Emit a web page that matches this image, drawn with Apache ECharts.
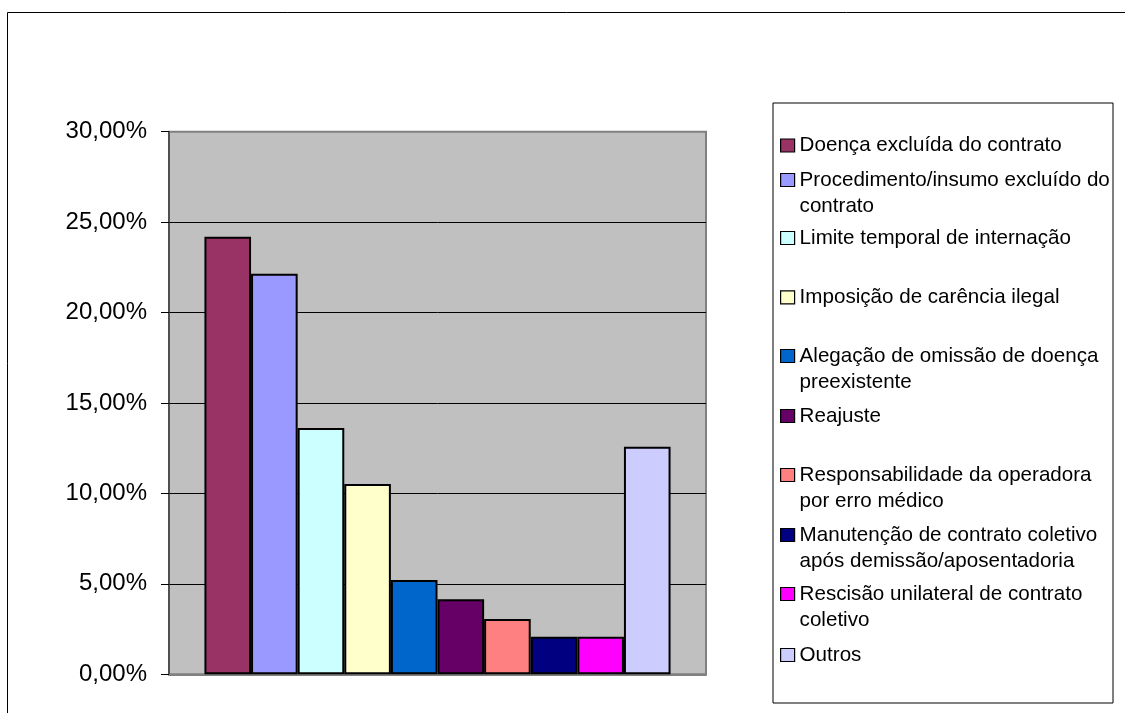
<!DOCTYPE html>
<html>
<head>
<meta charset="utf-8">
<script src="https://cdn.jsdelivr.net/npm/echarts@6/dist/echarts.min.js"></script>
<style>
  html, body { margin: 0; padding: 0; background: #fff; }
  #chart { width: 1125px; height: 713px; }
</style>
</head>
<body>
<div id="chart"></div>
<script>
// Motivos das ações (percentual de casos)
const categories = [
  'Doença excluída do contrato',
  'Procedimento/insumo excluído do contrato',
  'Limite temporal de internação',
  'Imposição de carência ilegal',
  'Alegação de omissão de doença preexistente',
  'Reajuste',
  'Responsabilidade da operadora por erro médico',
  'Manutenção de contrato coletivo após demissão/aposentadoria',
  'Rescisão unilateral de contrato coletivo',
  'Outros'
];

// Legend text, broken into lines
const legendLines = [
  ['Doença excluída do contrato'],
  ['Procedimento/insumo excluído do', 'contrato'],
  ['Limite temporal de internação'],
  ['Imposição de carência ilegal'],
  ['Alegação de omissão de doença', 'preexistente'],
  ['Reajuste'],
  ['Responsabilidade da operadora', 'por erro médico'],
  ['Manutenção de contrato coletivo', 'após demissão/aposentadoria'],
  ['Rescisão unilateral de contrato', 'coletivo'],
  ['Outros']
];

// Percent values
const values = [24.19, 22.15, 13.62, 10.52, 5.21, 4.15, 3.06, 2.08, 2.08, 12.58];

const colors = ['#993366', '#9999FF', '#CCFFFF', '#FFFFCC', '#0066CC',
                '#660066', '#FF8080', '#000080', '#FF00FF', '#CCCCFF'];

// Y axis: 0% .. 30% every 5%
const yMin = 0;
const yMax = 30;
const yStep = 5;

// Vertical centre of each legend swatch
const legendCenters = [145.5, 180, 238, 297.3, 356, 416, 475, 535, 594, 655];

const FONT = '"Liberation Sans", Arial, sans-serif';
const LH = 26.5;

const chart = echarts.init(document.getElementById('chart'), null, { renderer: 'canvas' });

const legends = categories.map((name, i) => {
  const lines = legendLines[i];
  const multi = lines.length > 1;
  return {
    data: [name],
    orient: 'vertical',
    left: 780,
    top: legendCenters[i] - (multi ? 1.5 : 0.5) * LH,
    padding: 0,
    itemWidth: 14,
    itemHeight: 13,
    icon: 'rect',
    selectedMode: false,
    itemStyle: { borderColor: '#000', borderWidth: 1.2 },
    textStyle: { fontFamily: FONT, fontSize: 20.6, color: '#000', lineHeight: LH },
    // a blank first line keeps the swatch level with the first text line
    formatter: () => (multi ? ' \n' + lines.join('\n') : lines[0])
  };
});

const option = {
  animation: false,
  backgroundColor: '#fff',
  grid: {
    left: 169, right: 419, top: 131.7, bottom: 38.7,
    containLabel: false,
    show: true,
    backgroundColor: '#C0C0C0',
    borderColor: '#808080',
    borderWidth: 2
  },
  legend: legends,
  xAxis: {
    type: 'category',
    data: [''],
    axisLine: { show: true, lineStyle: { color: '#808080', width: 2 } },
    axisTick: { show: false },
    axisLabel: { show: false },
    splitLine: { show: false }
  },
  yAxis: {
    type: 'value',
    min: yMin, max: yMax, interval: yStep,
    axisLine: { show: true, lineStyle: { color: '#404040', width: 1.5 } },
    axisTick: { show: true, length: 8, lineStyle: { color: '#000', width: 1 } },
    axisLabel: {
      margin: 22,
      fontFamily: FONT,
      fontSize: 24,
      color: '#000',
      formatter: v => v.toFixed(2).replace('.', ',') + '%'
    },
    splitLine: {
      show: true,
      showMinLine: false,
      showMaxLine: false,
      lineStyle: { color: '#000', width: 1 }
    }
  },
  series: categories.map((name, i) => ({
    type: 'bar',
    name: name,
    data: [values[i]],
    barGap: '0%',
    barCategoryGap: '13.2%',
    itemStyle: { color: colors[i], borderColor: '#000', borderWidth: 2 }
  })),
  graphic: [
    {
      type: 'rect',
      shape: { x: 7.5, y: 12.5, width: 1300, height: 900 },
      style: { fill: 'none', stroke: '#000', lineWidth: 1 },
      silent: true
    },
    {
      type: 'rect',
      shape: { x: 773, y: 103, width: 340, height: 600 },
      style: { fill: 'none', stroke: '#000', lineWidth: 1 },
      silent: true
    }
  ]
};

chart.setOption(option);
</script>
</body>
</html>
